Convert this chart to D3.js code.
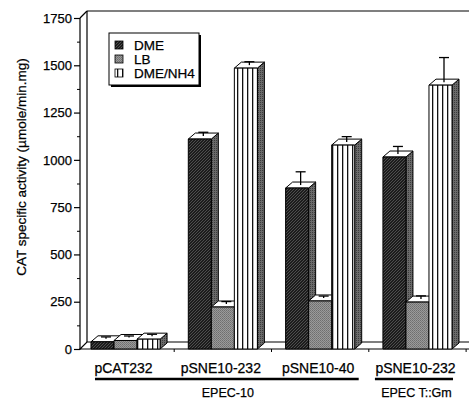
<!DOCTYPE html>
<html>
<head>
<meta charset="utf-8">
<script src="https://cdn.jsdelivr.net/npm/d3@7"></script>
<style>
  body { margin: 0; background: #fff; }
  svg text { font-family: "Liberation Sans", Arial, sans-serif; fill: #000; stroke: #000; stroke-width: 0.25; }
</style>
</head>
<body>
<svg id="chart" width="469" height="400"></svg>
<script>
// data
const categories = ["pCAT232", "pSNE10-232", "pSNE10-40", "pSNE10-232"]
const seriesNames = ["DME", "LB", "DME/NH4"]
const dmeValues = [38, 1110, 851, 1015]
const lbValues = [45, 222, 254, 248]
const nh4Values = [52, 1485, 1078, 1395]
const dmeErrors = [10, 20, 70, 40]
const lbErrors = [8, 13, 10, 17]
const nh4Errors = [10, 18, 29, 130]
const yTicks = [0, 250, 500, 750, 1000, 1250, 1500, 1750]
const strains = [
    { label: "EPEC-10", from: 0, to: 2 },
    { label: "EPEC T::Gm", from: 3, to: 3 }
]

const width = 469
const depthX = 7
const depthY = 7
const barDepthY = 6

const svg = d3.select("#chart")

const y = d3.scaleLinear().domain([0, 1750]).range([349, 18])
const x = d3
    .scaleBand()
    .domain(d3.range(categories.length))
    .range([76, 467])
    .paddingInner(0.29)
    .paddingOuter(0.154)
const xs = d3.scaleBand().domain(seriesNames).range([0, x.bandwidth()])

const axisX = 80
const floorY = y(0)

// patterns
const defs = svg.append("defs")

const hatch = defs
    .append("pattern")
    .attr("id", "p-dme")
    .attr("patternUnits", "userSpaceOnUse")
    .attr("width", 3)
    .attr("height", 3)
hatch.append("rect").attr("width", 3).attr("height", 3).attr("fill", "#1c1c1c")
hatch
    .append("path")
    .attr("d", "M-1,1 l2,-2 M0,3 l3,-3 M2,4 l2,-2")
    .attr("stroke", "#5a5a5a")
    .attr("stroke-width", 0.8)

const dots = defs
    .append("pattern")
    .attr("id", "p-lb")
    .attr("patternUnits", "userSpaceOnUse")
    .attr("width", 2)
    .attr("height", 2)
dots.append("rect").attr("width", 2).attr("height", 2).attr("fill", "#9a9a9a")
dots.append("rect").attr("width", 1).attr("height", 1).attr("fill", "#6e6e6e")
dots.append("rect").attr("x", 1).attr("y", 1).attr("width", 1).attr("height", 1).attr("fill", "#7a7a7a")

const stripes = defs
    .append("pattern")
    .attr("id", "p-nh4")
    .attr("patternUnits", "userSpaceOnUse")
    .attr("width", 5)
    .attr("height", 5)
stripes.append("rect").attr("width", 5).attr("height", 5).attr("fill", "#fff")
stripes
    .append("rect")
    .attr("x", 2)
    .attr("width", 1.3)
    .attr("height", 5)
    .attr("fill", "#111")

const side = defs
    .append("pattern")
    .attr("id", "p-side")
    .attr("patternUnits", "userSpaceOnUse")
    .attr("width", 2)
    .attr("height", 2)
side.append("rect").attr("width", 2).attr("height", 2).attr("fill", "#6a6a6a")
side.append("rect").attr("width", 1).attr("height", 1).attr("fill", "#3c3c3c")

const fills = { DME: "url(#p-dme)", LB: "url(#p-lb)", "DME/NH4": "url(#p-nh4)" }

// walls
const frame = svg.append("g").attr("fill", "none").attr("stroke", "#000").attr("stroke-width", 1.2)
frame.append("line").attr("x1", axisX).attr("y1", y(1750)).attr("x2", axisX).attr("y2", floorY + 1)
frame
    .append("line")
    .attr("x1", axisX + depthX)
    .attr("y1", y(1750) - depthY)
    .attr("x2", axisX + depthX)
    .attr("y2", floorY - depthY)
frame
    .append("line")
    .attr("x1", axisX)
    .attr("y1", y(1750))
    .attr("x2", axisX + depthX)
    .attr("y2", y(1750) - depthY)
frame
    .append("line")
    .attr("x1", axisX + depthX)
    .attr("y1", y(1750) - depthY)
    .attr("x2", width)
    .attr("y2", y(1750) - depthY)

// floor
svg.append("path")
    .attr(
        "d",
        `M${axisX},${floorY} L${width + 10},${floorY} L${width + 10 + depthX},${floorY - depthY} L${axisX + depthX},${floorY - depthY} Z`
    )
    .attr("fill", "#fff")
    .attr("stroke", "#000")
    .attr("stroke-width", 1.2)

// small ticks between groups
svg.append("g")
    .selectAll("line")
    .data(d3.range(categories.length))
    .join("line")
    .attr("x1", (i) => x(i) + x.bandwidth() + (x.step() - x.bandwidth()) / 2)
    .attr("x2", (i) => x(i) + x.bandwidth() + (x.step() - x.bandwidth()) / 2)
    .attr("y1", floorY)
    .attr("y2", floorY + 3)
    .attr("stroke", "#000")

// y axis
const yAxis = svg
    .append("g")
    .attr("transform", `translate(${axisX},0)`)
    .call(d3.axisLeft(y).tickValues(yTicks).tickSize(6).tickPadding(2).tickFormat(d3.format("d")))
yAxis.select(".domain").remove()
yAxis.selectAll("line").attr("stroke-width", 1.2)
yAxis.selectAll("text").attr("font-size", 13).attr("font-family", "Liberation Sans, Arial, sans-serif")
svg.append("g")
    .attr("transform", `translate(${axisX},0)`)
    .call(
        d3
            .axisLeft(y)
            .tickValues(d3.range(125, 1750, 250))
            .tickSize(3)
            .tickFormat("")
    )
    .call((g) => g.select(".domain").remove())

svg.append("text")
    .attr("transform", `translate(26,${167}) rotate(-90)`)
    .attr("text-anchor", "middle")
    .attr("font-size", 13.5)
    .text("CAT specific activity (µmole/min.mg)")

// bars
const rows = []
categories.forEach((c, i) => {
    rows.push({ i, s: "DME", v: dmeValues[i], e: dmeErrors[i] })
    rows.push({ i, s: "LB", v: lbValues[i], e: lbErrors[i] })
    rows.push({ i, s: "DME/NH4", v: nh4Values[i], e: nh4Errors[i] })
})

const bw = xs.bandwidth()
const bars = svg
    .append("g")
    .selectAll("g")
    .data(rows)
    .join("g")
    .attr("stroke", "#000")
    .attr("stroke-width", 1)
    .attr("stroke-linejoin", "round")

bars.append("path")
    .attr("fill", "url(#p-side)")
    .attr("d", (d) => {
        const x0 = x(d.i) + xs(d.s) + bw
        const yt = y(d.v)
        return `M${x0},${yt} L${x0 + depthX},${yt - barDepthY} L${x0 + depthX},${floorY - barDepthY} L${x0},${floorY} Z`
    })
bars.append("path")
    .attr("fill", "#fff")
    .attr("d", (d) => {
        const x0 = x(d.i) + xs(d.s)
        const yt = y(d.v)
        return `M${x0},${yt} L${x0 + depthX},${yt - barDepthY} L${x0 + bw + depthX},${yt - barDepthY} L${x0 + bw},${yt} Z`
    })
bars.append("rect")
    .attr("x", (d) => x(d.i) + xs(d.s))
    .attr("y", (d) => y(d.v))
    .attr("width", bw)
    .attr("height", (d) => floorY - y(d.v))
    .attr("fill", (d) => fills[d.s])

// error bars from the centre of the top face
const errs = bars.append("g").attr("stroke-width", 1.3)
errs.append("line")
    .attr("x1", (d) => x(d.i) + xs(d.s) + bw / 2 + depthX / 2)
    .attr("x2", (d) => x(d.i) + xs(d.s) + bw / 2 + depthX / 2)
    .attr("y1", (d) => y(d.v) - barDepthY / 2)
    .attr("y2", (d) => y(d.v + d.e) - barDepthY / 2)
errs.append("line")
    .attr("x1", (d) => x(d.i) + xs(d.s) + bw / 2 + depthX / 2 - 5)
    .attr("x2", (d) => x(d.i) + xs(d.s) + bw / 2 + depthX / 2 + 5)
    .attr("y1", (d) => y(d.v + d.e) - barDepthY / 2)
    .attr("y2", (d) => y(d.v + d.e) - barDepthY / 2)

// category labels
svg.append("g")
    .selectAll("text")
    .data(categories)
    .join("text")
    .attr("x", (d, i) => x(i) + x.bandwidth() / 2 - 2)
    .attr("y", 373)
    .attr("text-anchor", "middle")
    .attr("font-size", 14)
    .text((d) => d)

// strain brackets
const strainG = svg.append("g").selectAll("g").data(strains).join("g")
strainG
    .append("line")
    .attr("x1", (d) => x(d.from) + (d.from === d.to ? -8 : 4))
    .attr("x2", (d) => x(d.to) + x.bandwidth() + (d.from === d.to ? 1 : 4))
    .attr("y1", 379)
    .attr("y2", 379)
    .attr("stroke", "#000")
    .attr("stroke-width", 2.5)
strainG
    .append("text")
    .attr("x", (d) => (x(d.from) + x(d.to) + x.bandwidth()) / 2 + (d.from === d.to ? -1 : 5))
    .attr("y", 397)
    .attr("text-anchor", "middle")
    .attr("font-size", 12.5)
    .text((d) => d.label)

// legend
const legend = svg.append("g").attr("transform", "translate(109,33)")
legend.append("rect").attr("x", 2).attr("y", 2).attr("width", 90).attr("height", 52).attr("fill", "#000")
legend
    .append("rect")
    .attr("width", 90)
    .attr("height", 52)
    .attr("fill", "#fff")
    .attr("stroke", "#000")
    .attr("stroke-width", 1)
const items = legend
    .selectAll("g.item")
    .data(seriesNames)
    .join("g")
    .attr("class", "item")
    .attr("transform", (d, i) => `translate(6,${12 + i * 14})`)
items.append("rect")
    .attr("y", -4)
    .attr("width", 8)
    .attr("height", 8)
    .attr("fill", (d) => fills[d])
    .attr("stroke", "#000")
    .attr("stroke-width", 0.8)
items.append("text")
    .attr("x", 19)
    .attr("y", 4.5)
    .attr("font-size", 13.5)
    .text((d) => d)
</script>
</body>
</html>
